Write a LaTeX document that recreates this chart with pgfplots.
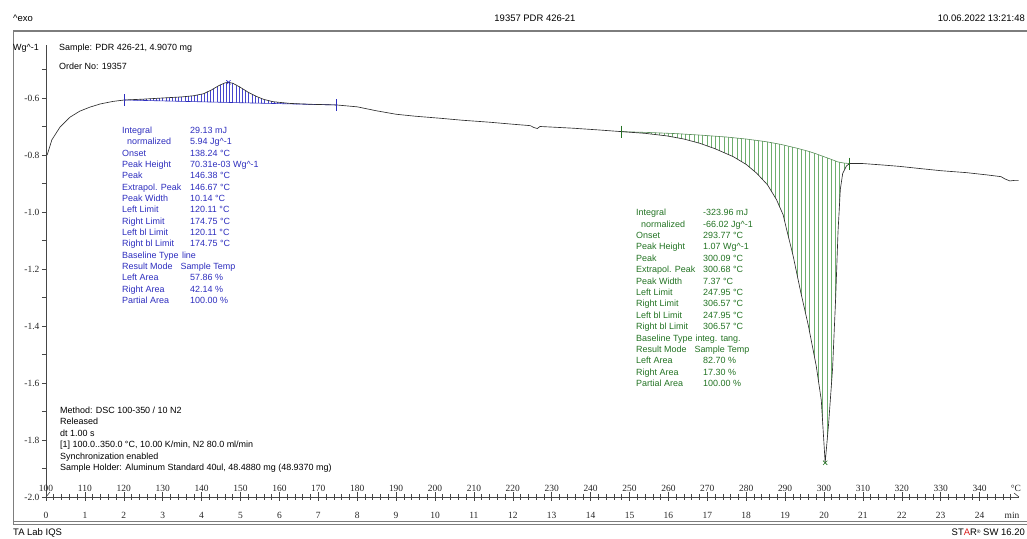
\documentclass[border=0pt]{standalone}
\usepackage{pgfplots}
\pgfplotsset{compat=1.18}
\usepackage{fontspec}
\setmainfont{Liberation Sans}
\newfontfamily\tickfont{Liberation Serif}
\usetikzlibrary{patterns.meta}

\definecolor{curve}{RGB}{45,45,45}
\definecolor{frame}{RGB}{125,125,125}
\definecolor{axisc}{RGB}{70,70,70}
\definecolor{evalblue}{RGB}{45,45,190}
\definecolor{hatchblue}{RGB}{70,70,205}
\definecolor{evalgreen}{RGB}{35,115,35}
\definecolor{hatchgreen}{RGB}{110,175,110}
\definecolor{starred}{RGB}{220,30,30}

% DSC heat flow (Wg^-1) against sample temperature (deg C)
\pgfplotstableread{
T v
100.3 -0.800
101.5 -0.747
103.6 -0.702
106.2 -0.667
108.7 -0.646
111.3 -0.632
113.9 -0.621
117.2 -0.612
120.11 -0.607
125.0 -0.604
130.0 -0.600
135.0 -0.596
138.0 -0.592
140.5 -0.585
142.5 -0.572
144.5 -0.556
146.0 -0.547
146.9 -0.545
148.0 -0.548
149.9 -0.562
152.0 -0.580
154.2 -0.595
156.0 -0.605
158.4 -0.613
162.7 -0.619
168.0 -0.622
174.75 -0.6245
180.0 -0.631
185.0 -0.645
190.0 -0.657
195.0 -0.664
201.3 -0.671
207.0 -0.678
214.1 -0.685
220.0 -0.692
224.5 -0.697
225.5 -0.704
226.3 -0.707
227.0 -0.700
230.0 -0.702
235.5 -0.706
242.0 -0.712
247.95 -0.718
254.0 -0.724
259.6 -0.733
264.0 -0.744
268.1 -0.759
272.0 -0.778
276.7 -0.806
280.0 -0.833
282.7 -0.864
285.5 -0.905
287.8 -0.957
289.5 -1.010
290.4 -1.062
292.0 -1.150
294.0 -1.280
296.0 -1.400
298.0 -1.540
299.3 -1.660
300.3 -1.880
301.2 -1.740
302.2 -1.550
303.0 -1.300
303.6 -1.070
304.2 -0.920
304.8 -0.865
305.8 -0.838
306.57 -0.830
310.0 -0.830
315.0 -0.835
319.5 -0.840
325.0 -0.848
330.0 -0.855
336.7 -0.862
342.0 -0.870
345.5 -0.876
346.5 -0.884
347.8 -0.891
349.0 -0.889
350.0 -0.889
}\dsc

% exothermic peak: curve section from left to right limit, then the linear baseline back
\pgfplotstableread{
T v
120.11 -0.607
125.0 -0.604
130.0 -0.600
135.0 -0.596
138.0 -0.592
140.5 -0.585
142.5 -0.572
144.5 -0.556
146.0 -0.547
146.9 -0.545
148.0 -0.548
149.9 -0.562
152.0 -0.580
154.2 -0.595
156.0 -0.605
158.4 -0.613
162.7 -0.619
168.0 -0.622
174.75 -0.6245
120.11 -0.607
}\exopeak

% integral-tangential baseline of the endothermic peak
\pgfplotstableread{
T v
247.95 -0.718
255.0 -0.721
262.0 -0.725
268.0 -0.730
275.0 -0.737
280.0 -0.744
285.0 -0.753
289.0 -0.763
293.0 -0.776
296.0 -0.787
298.0 -0.796
300.0 -0.806
302.0 -0.816
303.5 -0.824
305.0 -0.828
306.57 -0.830
}\endobase

% endothermic peak: curve section, then the baseline in reverse
\pgfplotstableread{
T v
247.95 -0.718
254.0 -0.724
259.6 -0.733
264.0 -0.744
268.1 -0.759
272.0 -0.778
276.7 -0.806
280.0 -0.833
282.7 -0.864
285.5 -0.905
287.8 -0.957
289.5 -1.010
290.4 -1.062
292.0 -1.150
294.0 -1.280
296.0 -1.400
298.0 -1.540
299.3 -1.660
300.3 -1.880
301.2 -1.740
302.2 -1.550
303.0 -1.300
303.6 -1.070
304.2 -0.920
304.8 -0.865
305.8 -0.838
306.57 -0.830
305.0 -0.828
303.5 -0.824
302.0 -0.816
300.0 -0.806
298.0 -0.796
296.0 -0.787
293.0 -0.776
289.0 -0.763
285.0 -0.753
280.0 -0.744
275.0 -0.737
268.0 -0.730
262.0 -0.725
255.0 -0.721
247.95 -0.718
}\endopeak

\newcommand{\txt}{\fontsize{9}{11}\selectfont}
\newcommand{\hdr}{\fontsize{9.5}{11}\selectfont}

\begin{document}
\begin{tikzpicture}
\useasboundingbox (0,0) rectangle (1027bp,539bp);

% ---- heat flow axis
\begin{axis}[
  at={(46bp,42bp)}, anchor=south west, scale only axis,
  width=972.5bp, height=452bp,
  xmin=100, xmax=350, ymin=-2.0, ymax=-0.414,
  axis x line=bottom, axis y line=left,
  axis line style={-, draw=axisc, line width=0.7pt},
  xtick=\empty,
  ytick={-2.0,-1.8,...,-0.6},
  minor ytick={-1.9,-1.7,-1.5,-1.3,-1.1,-0.9,-0.7,-0.5},
  tick align=outside, major tick length=4bp, minor tick length=4bp,
  every tick/.style={draw=axisc, line width=0.6pt},
  /pgf/number format/assume math mode=true,
  /pgf/number format/.cd, fixed, fixed zerofill, precision=1, /pgfplots/.cd,
  yticklabel style={font=\tickfont\fontsize{9.5}{11}\selectfont, text=black!85, xshift=1bp},
]
  % hatched integration areas
  \addplot[draw=none, pattern={Lines[angle=90,distance=3.2pt,line width=0.55pt]}, pattern color=hatchblue]
    table[x=T,y=v] {\exopeak} -- cycle;
  \addplot[draw=none, pattern={Lines[angle=90,distance=4.3pt,line width=0.55pt]}, pattern color=hatchgreen]
    table[x=T,y=v] {\endopeak} -- cycle;
  % baselines
  \addplot[evalblue, line width=0.6pt] coordinates {(120.11,-0.607) (174.75,-0.6245)};
  \addplot[hatchgreen!80!black, line width=0.6pt] table[x=T,y=v] {\endobase};
  % measured curve
  \addplot[curve, line width=0.65pt] table[x=T,y=v] {\dsc};
  % limit and peak markers
  \addplot[evalblue, only marks, mark=|, mark size=6, line width=0.9pt]
    coordinates {(120.11,-0.607) (174.75,-0.6245)};
  \addplot[evalgreen, only marks, mark=|, mark size=6, line width=0.9pt]
    coordinates {(247.95,-0.718) (306.57,-0.830)};
  \addplot[evalblue, only marks, mark=x, mark size=3, line width=0.6pt]
    coordinates {(146.9,-0.545)};
  \addplot[evalgreen, only marks, mark=x, mark size=3, line width=0.6pt]
    coordinates {(300.3,-1.880)};
\end{axis}

% ---- temperature scale, labels above the line
\begin{axis}[
  at={(46bp,42bp)}, anchor=north west, scale only axis,
  width=972.5bp, height=20bp,
  xmin=100, xmax=350, ymin=0, ymax=1,
  axis x line=top, axis y line=none,
  axis line style={-, draw=axisc, line width=0.7pt},
  xtick={100,110,...,340},
  minor xtick={102,104,...,348},
  tick align=center, major tick length=9bp, minor tick length=6bp,
  every tick/.style={draw=axisc, line width=0.6pt},
  /pgf/number format/assume math mode=true,
  xticklabel style={font=\tickfont\fontsize{9.5}{11}\selectfont, text=black!85, yshift=-3bp},
]
\end{axis}

% ---- time scale, labels below the line
\begin{axis}[
  at={(46bp,42bp)}, anchor=south west, scale only axis,
  width=972.5bp, height=20bp,
  xmin=0, xmax=25, ymin=0, ymax=1,
  axis x line=bottom, axis y line=none,
  axis line style={draw=none},
  xtick={0,1,...,24}, major tick length=0pt,
  /pgf/number format/assume math mode=true,
  xticklabel style={font=\tickfont\fontsize{9.5}{11}\selectfont, text=black!85, yshift=-11.5bp},
]
\end{axis}

% ---- page furniture and evaluation texts (pixel grid, origin top left)
\begin{scope}[x=1bp, y=-1bp, shift={(0,539bp)}]
  \draw[frame, line width=1.3pt] (13,31) -- (1030,31);
  \draw[frame, line width=0.8pt] (13,31) -- (13,525);
  \draw[frame, line width=0.8pt] (13,521) -- (1030,521);
  \draw[frame, line width=0.8pt] (13,524.5) -- (1030,524.5);
  \draw[axisc, line width=0.6pt] (46,497) -- (50,492);
  \draw[axisc, line width=0.6pt] (1014,493) -- (1019,497);

  \node[anchor=base west, inner sep=0, font=\hdr] at (13,21.5) {\textasciicircum exo};
  \node[anchor=base, inner sep=0, font=\hdr] at (535,21.5) {19357 PDR 426-21};
  \node[anchor=base east, inner sep=0, font=\hdr] at (1025,21.5) {10.06.2022 13:21:48};
  \node[anchor=base west, inner sep=0, font=\hdr] at (13,536) {TA Lab IQS};
  \node[anchor=base east, inner sep=0, font=\hdr] at (1025,536)
    {ST{\color{starred}A}R\raisebox{2.5pt}{\fontsize{5}{5}\selectfont ®} SW 16.20};

  \node[anchor=base west, inner sep=0, font=\txt] at (13,50.5) {Wg\textasciicircum -1};
  \node[anchor=base west, inner sep=0, font=\txt] at (59,50.5) {Sample: PDR 426-21, 4.9070 mg};
  \node[anchor=base west, inner sep=0, font=\txt] at (59,69.5) {Order No: 19357};

  \node[anchor=base, inner sep=0, font=\tickfont\fontsize{9.5}{11}\selectfont, text=black!85] at (1016,491.5) {°C};
  \node[anchor=base, inner sep=0, font=\tickfont\fontsize{9.5}{11}\selectfont, text=black!85] at (1012,519) {min};

  % method block
  \foreach \l [count=\i from 0] in {
    Method: DSC 100-350 / 10 N2,
    Released,
    dt 1.00 s,
    {[1] 100.0..350.0 °C, 10.00 K/min, N2 80.0 ml/min},
    Synchronization enabled,
    {Sample Holder: Aluminum Standard 40ul, 48.4880 mg (48.9370 mg)}}
    \node[anchor=base west, inner sep=0, font=\txt] at (60,413.5+11.5*\i) {\l};

  % exothermic peak evaluation
  \foreach \l/\v [count=\i from 0] in {
    Integral/29.13 mJ,
    \ \ normalized/5.94 Jg\textasciicircum -1,
    Onset/138.24 °C,
    Peak Height/70.31e-03 Wg\textasciicircum -1,
    Peak/146.38 °C,
    Extrapol. Peak/146.67 °C,
    Peak Width/10.14 °C,
    Left Limit/120.11 °C,
    Right Limit/174.75 °C,
    Left bl Limit/120.11 °C,
    Right bl Limit/174.75 °C,
    Baseline Type\hspace{3.5bp}line/,
    Result Mode\hspace{8bp}Sample Temp/,
    Left Area/57.86 \%,
    Right Area/42.14 \%,
    Partial Area/100.00 \%}
  {
    \node[anchor=base west, inner sep=0, font=\txt, text=evalblue] at (122,133.5+11.33*\i) {\l};
    \node[anchor=base west, inner sep=0, font=\txt, text=evalblue] at (190,133.5+11.33*\i) {\v};
  }

  % endothermic peak evaluation
  \foreach \l/\v [count=\i from 0] in {
    Integral/-323.96 mJ,
    \ \ normalized/-66.02 Jg\textasciicircum -1,
    Onset/293.77 °C,
    Peak Height/1.07 Wg\textasciicircum -1,
    Peak/300.09 °C,
    Extrapol. Peak/300.68 °C,
    Peak Width/7.37 °C,
    Left Limit/247.95 °C,
    Right Limit/306.57 °C,
    Left bl Limit/247.95 °C,
    Right bl Limit/306.57 °C,
    Baseline Type\hspace{3bp}integ. tang./,
    Result Mode\hspace{8bp}Sample Temp/,
    Left Area/82.70 \%,
    Right Area/17.30 \%,
    Partial Area/100.00 \%}
  {
    \node[anchor=base west, inner sep=0, font=\txt, text=evalgreen] at (636,215.8+11.4*\i) {\l};
    \node[anchor=base west, inner sep=0, font=\txt, text=evalgreen] at (703,215.8+11.4*\i) {\v};
  }
\end{scope}
\end{tikzpicture}
\end{document}
